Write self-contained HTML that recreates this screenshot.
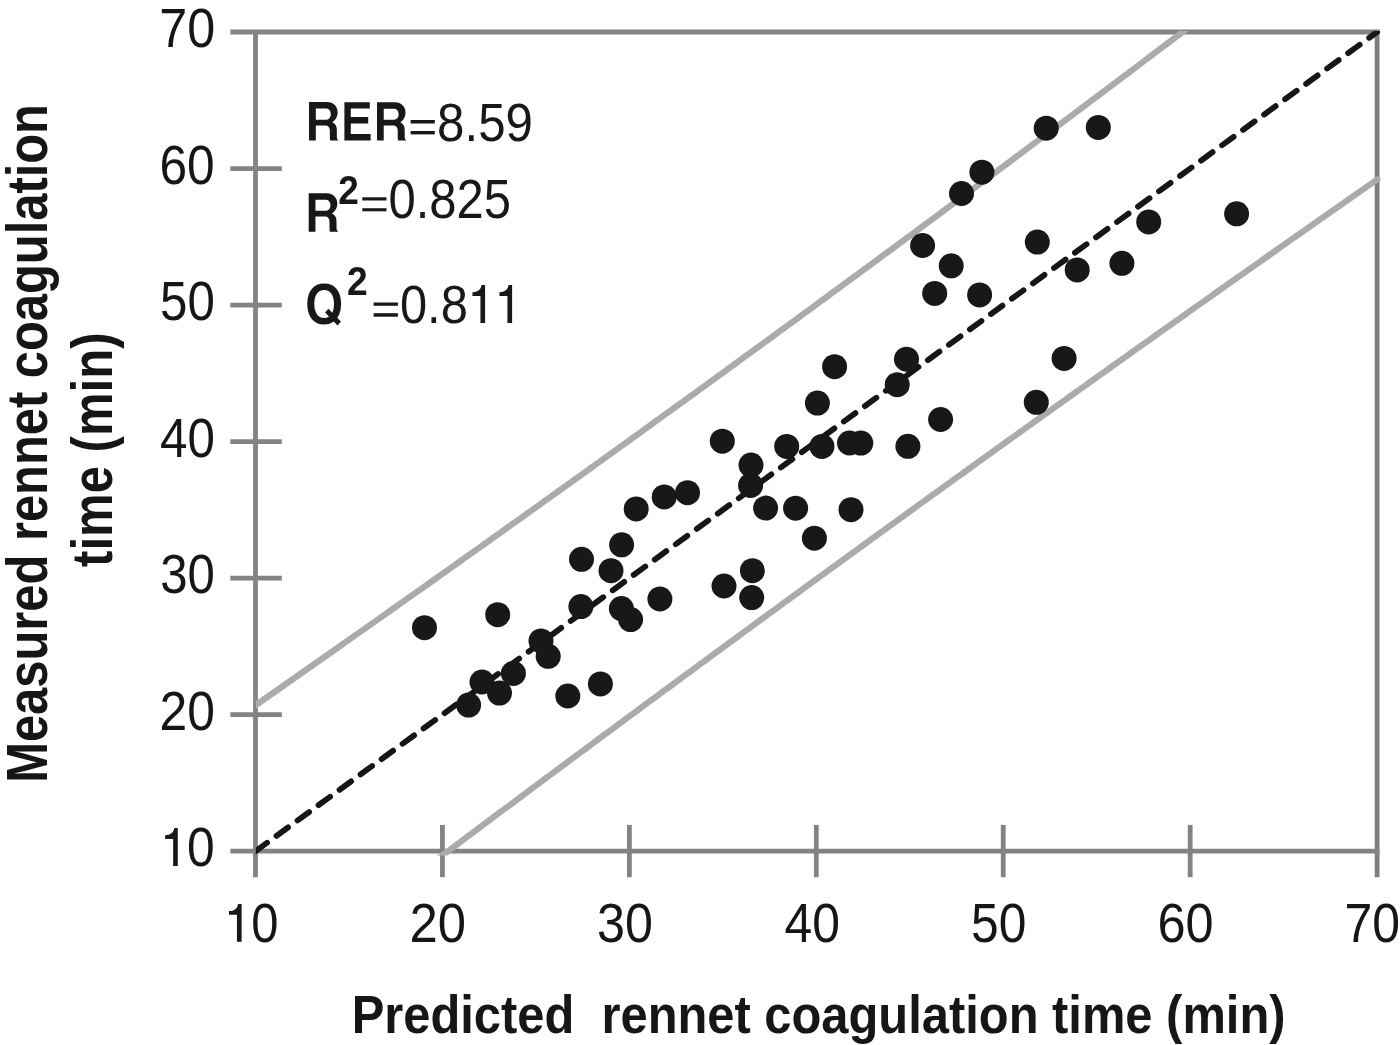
<!DOCTYPE html>
<html><head><meta charset="utf-8"><style>
html,body{margin:0;padding:0;background:#fff;}
svg{display:block;will-change:transform;}
text{font-family:"Liberation Sans",sans-serif;}
</style></head><body>
<svg width="1400" height="1045" viewBox="0 0 1400 1045">
<rect width="1400" height="1045" fill="#fff"/>
<g stroke="#838383" stroke-width="4.8" fill="none">
<line x1="255.5" y1="29.7" x2="255.5" y2="877.2"/>
<line x1="1377.1" y1="29.7" x2="1377.1" y2="877.2" stroke="#7e7e7e"/>
<line x1="230.3" y1="32.0" x2="1379.4" y2="32.0"/>
<line x1="230.3" y1="851.2" x2="1379.4" y2="851.2"/>
<line x1="230.3" y1="714.67" x2="281.8" y2="714.67"/>
<line x1="230.3" y1="578.13" x2="281.8" y2="578.13"/>
<line x1="230.3" y1="441.60" x2="281.8" y2="441.60"/>
<line x1="230.3" y1="305.07" x2="281.8" y2="305.07"/>
<line x1="230.3" y1="168.53" x2="281.8" y2="168.53"/>
<line x1="442.43" y1="824.9" x2="442.43" y2="877.2"/>
<line x1="629.37" y1="824.9" x2="629.37" y2="877.2"/>
<line x1="816.30" y1="824.9" x2="816.30" y2="877.2"/>
<line x1="1003.23" y1="824.9" x2="1003.23" y2="877.2"/>
<line x1="1190.17" y1="824.9" x2="1190.17" y2="877.2"/>
</g>
<defs><clipPath id="c"><rect x="255.8" y="31" width="1126" height="824.6"/></clipPath></defs>
<g clip-path="url(#c)">
<polyline fill="none" stroke="#ababab" stroke-width="6.2" points="230.00,723.02 235.00,719.54 240.00,716.06 245.00,712.57 250.00,709.09 255.00,705.60 260.00,702.11 265.00,698.62 270.00,695.13 275.00,691.63 280.00,688.14 285.00,684.64 290.00,681.14 295.00,677.64 300.00,674.14 305.00,670.64 310.00,667.14 315.00,663.64 320.00,660.13 325.00,656.62 330.00,653.11 335.00,649.60 340.00,646.09 345.00,642.58 350.00,639.06 355.00,635.55 360.00,632.03 365.00,628.51 370.00,624.99 375.00,621.47 380.00,617.95 385.00,614.42 390.00,610.90 395.00,607.37 400.00,603.84 405.00,600.31 410.00,596.78 415.00,593.24 420.00,589.71 425.00,586.17 430.00,582.64 435.00,579.10 440.00,575.56 445.00,572.01 450.00,568.47 455.00,564.92 460.00,561.38 465.00,557.83 470.00,554.28 475.00,550.73 480.00,547.17 485.00,543.62 490.00,540.06 495.00,536.51 500.00,532.95 505.00,529.39 510.00,525.82 515.00,522.26 520.00,518.69 525.00,515.13 530.00,511.56 535.00,507.99 540.00,504.42 545.00,500.84 550.00,497.27 555.00,493.69 560.00,490.11 565.00,486.54 570.00,482.95 575.00,479.37 580.00,475.79 585.00,472.20 590.00,468.61 595.00,465.03 600.00,461.43 605.00,457.84 610.00,454.25 615.00,450.65 620.00,447.06 625.00,443.46 630.00,439.86 635.00,436.26 640.00,432.65 645.00,429.05 650.00,425.44 655.00,421.83 660.00,418.22 665.00,414.61 670.00,411.00 675.00,407.38 680.00,403.77 685.00,400.15 690.00,396.53 695.00,392.91 700.00,389.28 705.00,385.66 710.00,382.03 715.00,378.41 720.00,374.78 725.00,371.15 730.00,367.51 735.00,363.88 740.00,360.24 745.00,356.61 750.00,352.97 755.00,349.33 760.00,345.68 765.00,342.04 770.00,338.39 775.00,334.75 780.00,331.10 785.00,327.45 790.00,323.79 795.00,320.14 800.00,316.48 805.00,312.83 810.00,309.17 815.00,305.51 820.00,301.85 825.00,298.18 830.00,294.52 835.00,290.85 840.00,287.18 845.00,283.51 850.00,279.84 855.00,276.17 860.00,272.49 865.00,268.81 870.00,265.13 875.00,261.45 880.00,257.77 885.00,254.09 890.00,250.40 895.00,246.72 900.00,243.03 905.00,239.34 910.00,235.65 915.00,231.96 920.00,228.26 925.00,224.56 930.00,220.87 935.00,217.17 940.00,213.47 945.00,209.76 950.00,206.06 955.00,202.35 960.00,198.65 965.00,194.94 970.00,191.23 975.00,187.51 980.00,183.80 985.00,180.08 990.00,176.37 995.00,172.65 1000.00,168.93 1005.00,165.21 1010.00,161.48 1015.00,157.76 1020.00,154.03 1025.00,150.30 1030.00,146.57 1035.00,142.84 1040.00,139.11 1045.00,135.37 1050.00,131.64 1055.00,127.90 1060.00,124.16 1065.00,120.42 1070.00,116.68 1075.00,112.93 1080.00,109.19 1085.00,105.44 1090.00,101.69 1095.00,97.94 1100.00,94.19 1105.00,90.44 1110.00,86.68 1115.00,82.93 1120.00,79.17 1125.00,75.41 1130.00,71.65 1135.00,67.89 1140.00,64.12 1145.00,60.36 1150.00,56.59 1155.00,52.82 1160.00,49.05 1165.00,45.28 1170.00,41.51 1175.00,37.74 1180.00,33.96 1185.00,30.18 1190.00,26.41 1195.00,22.63 1200.00,18.84 1205.00,15.06 1210.00,11.28 1215.00,7.49 1220.00,3.70 1225.00,-0.08 1230.00,-3.87 1235.00,-7.67 1240.00,-11.46 1245.00,-15.25 1250.00,-19.05 1255.00,-22.85 1260.00,-26.65 1265.00,-30.45 1270.00,-34.25 1275.00,-38.05 1280.00,-41.85 1285.00,-45.66 1290.00,-49.47 1295.00,-53.27 1300.00,-57.08 1305.00,-60.90 1310.00,-64.71 1315.00,-68.52 1320.00,-72.34 1325.00,-76.15 1330.00,-79.97 1335.00,-83.79 1340.00,-87.61 1345.00,-91.43 1350.00,-95.26 1355.00,-99.08 1360.00,-102.91 1365.00,-106.73 1370.00,-110.56 1375.00,-114.39 1380.00,-118.22 1385.00,-122.06 1390.00,-125.89 1395.00,-129.72 1400.00,-133.56 1405.00,-137.40 1410.00,-141.24 1415.00,-145.08 1420.00,-148.92"/>
<polyline fill="none" stroke="#ababab" stroke-width="6.2" stroke-linecap="round" points="230.00,1015.56 235.00,1011.77 240.00,1007.97 245.00,1004.18 250.00,1000.38 255.00,996.59 260.00,992.80 265.00,989.01 270.00,985.22 275.00,981.44 280.00,977.65 285.00,973.87 290.00,970.08 295.00,966.30 300.00,962.52 305.00,958.74 310.00,954.96 315.00,951.19 320.00,947.41 325.00,943.64 330.00,939.86 335.00,936.09 340.00,932.32 345.00,928.55 350.00,924.78 355.00,921.02 360.00,917.25 365.00,913.49 370.00,909.72 375.00,905.96 380.00,902.20 385.00,898.44 390.00,894.68 395.00,890.93 400.00,887.17 405.00,883.42 410.00,879.67 415.00,875.91 420.00,872.16 425.00,868.41 430.00,864.67 435.00,860.92 440.00,857.18 445.00,853.43 450.00,849.69 455.00,845.95 460.00,842.21 465.00,838.47 470.00,834.74 475.00,831.00 480.00,827.27 485.00,823.53 490.00,819.80 495.00,816.07 500.00,812.34 505.00,808.61 510.00,804.89 515.00,801.16 520.00,797.44 525.00,793.72 530.00,790.00 535.00,786.28 540.00,782.56 545.00,778.84 550.00,775.13 555.00,771.41 560.00,767.70 565.00,763.99 570.00,760.28 575.00,756.57 580.00,752.87 585.00,749.16 590.00,745.46 595.00,741.75 600.00,738.05 605.00,734.35 610.00,730.65 615.00,726.96 620.00,723.26 625.00,719.57 630.00,715.87 635.00,712.18 640.00,708.49 645.00,704.80 650.00,701.11 655.00,697.43 660.00,693.74 665.00,690.06 670.00,686.38 675.00,682.70 680.00,679.02 685.00,675.34 690.00,671.66 695.00,667.99 700.00,664.32 705.00,660.64 710.00,656.97 715.00,653.30 720.00,649.64 725.00,645.97 730.00,642.30 735.00,638.64 740.00,634.98 745.00,631.32 750.00,627.66 755.00,624.00 760.00,620.34 765.00,616.69 770.00,613.03 775.00,609.38 780.00,605.73 785.00,602.08 790.00,598.43 795.00,594.79 800.00,591.14 805.00,587.50 810.00,583.86 815.00,580.21 820.00,576.57 825.00,572.94 830.00,569.30 835.00,565.66 840.00,562.03 845.00,558.40 850.00,554.77 855.00,551.14 860.00,547.51 865.00,543.88 870.00,540.26 875.00,536.63 880.00,533.01 885.00,529.39 890.00,525.77 895.00,522.15 900.00,518.53 905.00,514.92 910.00,511.30 915.00,507.69 920.00,504.08 925.00,500.47 930.00,496.86 935.00,493.25 940.00,489.65 945.00,486.04 950.00,482.44 955.00,478.84 960.00,475.24 965.00,471.64 970.00,468.04 975.00,464.44 980.00,460.85 985.00,457.25 990.00,453.66 995.00,450.07 1000.00,446.48 1005.00,442.89 1010.00,439.31 1015.00,435.72 1020.00,432.14 1025.00,428.56 1030.00,424.97 1035.00,421.39 1040.00,417.82 1045.00,414.24 1050.00,410.66 1055.00,407.09 1060.00,403.52 1065.00,399.94 1070.00,396.37 1075.00,392.80 1080.00,389.24 1085.00,385.67 1090.00,382.11 1095.00,378.54 1100.00,374.98 1105.00,371.42 1110.00,367.86 1115.00,364.30 1120.00,360.74 1125.00,357.19 1130.00,353.63 1135.00,350.08 1140.00,346.53 1145.00,342.98 1150.00,339.43 1155.00,335.88 1160.00,332.33 1165.00,328.79 1170.00,325.24 1175.00,321.70 1180.00,318.16 1185.00,314.62 1190.00,311.08 1195.00,307.54 1200.00,304.01 1205.00,300.47 1210.00,296.94 1215.00,293.40 1220.00,289.87 1225.00,286.34 1230.00,282.81 1235.00,279.29 1240.00,275.76 1245.00,272.23 1250.00,268.71 1255.00,265.19 1260.00,261.67 1265.00,258.15 1270.00,254.63 1275.00,251.11 1280.00,247.59 1285.00,244.08 1290.00,240.56 1295.00,237.05 1300.00,233.54 1305.00,230.03 1310.00,226.52 1315.00,223.01 1320.00,219.50 1325.00,216.00 1330.00,212.49 1335.00,208.99 1340.00,205.49 1345.00,201.99 1350.00,198.49 1355.00,194.99 1360.00,191.49 1365.00,187.99 1370.00,184.50 1375.00,181.01 1377.30,179.40"/>
<line x1="255.5" y1="851.2" x2="1377.1" y2="32.0" stroke="#161616" stroke-width="5.8" stroke-dasharray="14.3 11.72" stroke-linecap="round"/>
</g>
<g fill="#181818">
<circle cx="424.5" cy="627.7" r="12.5"/>
<circle cx="497.7" cy="614.7" r="12.5"/>
<circle cx="468.6" cy="705.1" r="12.5"/>
<circle cx="482.0" cy="682.0" r="12.5"/>
<circle cx="499.5" cy="693.1" r="12.5"/>
<circle cx="513.4" cy="673.4" r="12.5"/>
<circle cx="541.0" cy="640.9" r="12.5"/>
<circle cx="548.2" cy="656.3" r="12.5"/>
<circle cx="580.9" cy="606.6" r="12.5"/>
<circle cx="567.8" cy="696.0" r="12.5"/>
<circle cx="600.4" cy="683.9" r="12.5"/>
<circle cx="621.4" cy="608.6" r="12.5"/>
<circle cx="630.6" cy="619.6" r="12.5"/>
<circle cx="636.2" cy="508.9" r="12.5"/>
<circle cx="664.2" cy="496.9" r="12.5"/>
<circle cx="687.5" cy="492.7" r="12.5"/>
<circle cx="621.6" cy="544.8" r="12.5"/>
<circle cx="581.5" cy="559.3" r="12.5"/>
<circle cx="611.0" cy="570.7" r="12.5"/>
<circle cx="659.9" cy="599.0" r="12.5"/>
<circle cx="724.0" cy="586.0" r="12.5"/>
<circle cx="752.4" cy="570.7" r="12.5"/>
<circle cx="751.7" cy="597.6" r="12.5"/>
<circle cx="765.6" cy="508.1" r="12.5"/>
<circle cx="795.6" cy="508.2" r="12.5"/>
<circle cx="750.6" cy="485.4" r="12.5"/>
<circle cx="751.0" cy="465.1" r="12.5"/>
<circle cx="722.3" cy="441.2" r="12.5"/>
<circle cx="786.7" cy="446.4" r="12.5"/>
<circle cx="821.9" cy="446.4" r="12.5"/>
<circle cx="849.5" cy="443.0" r="12.5"/>
<circle cx="860.8" cy="443.1" r="12.5"/>
<circle cx="817.4" cy="403.1" r="12.5"/>
<circle cx="834.6" cy="366.7" r="12.5"/>
<circle cx="897.2" cy="384.7" r="12.5"/>
<circle cx="906.5" cy="359.2" r="12.5"/>
<circle cx="907.9" cy="446.3" r="12.5"/>
<circle cx="940.6" cy="419.5" r="12.5"/>
<circle cx="851.0" cy="509.7" r="12.5"/>
<circle cx="814.4" cy="538.2" r="12.5"/>
<circle cx="1064.1" cy="358.4" r="12.5"/>
<circle cx="1036.3" cy="402.3" r="12.5"/>
<circle cx="981.9" cy="172.2" r="12.5"/>
<circle cx="961.5" cy="193.5" r="12.5"/>
<circle cx="922.6" cy="245.5" r="12.5"/>
<circle cx="951.2" cy="265.8" r="12.5"/>
<circle cx="934.7" cy="293.4" r="12.5"/>
<circle cx="979.6" cy="294.9" r="12.5"/>
<circle cx="1037.3" cy="242.1" r="12.5"/>
<circle cx="1077.2" cy="269.9" r="12.5"/>
<circle cx="1046.2" cy="128.2" r="12.5"/>
<circle cx="1098.3" cy="127.4" r="12.5"/>
<circle cx="1148.7" cy="221.9" r="12.5"/>
<circle cx="1236.6" cy="213.8" r="12.5"/>
<circle cx="1121.9" cy="263.3" r="12.5"/>
</g>
<g font-family="Liberation Sans" fill="#181818">
<text transform="translate(159.24,47.10) scale(0.9142,1)" font-size="55.01" font-weight="normal" fill="#161616" >70</text>
<text transform="translate(159.46,183.63) scale(0.9035,1)" font-size="55.01" font-weight="normal" fill="#161616" >60</text>
<text transform="translate(160.03,320.17) scale(0.8957,1)" font-size="55.01" font-weight="normal" fill="#161616" >50</text>
<text transform="translate(160.07,456.70) scale(0.8967,1)" font-size="55.01" font-weight="normal" fill="#161616" >40</text>
<text transform="translate(160.13,593.23) scale(0.8939,1)" font-size="55.01" font-weight="normal" fill="#161616" >30</text>
<text transform="translate(159.51,729.77) scale(0.9062,1)" font-size="55.01" font-weight="normal" fill="#161616" >20</text>
<path transform="translate(177.80,865.90) scale(1.0027)" d="M0,0V-37.7H-3.5C-4.1,-33.4 -7.3,-30.6 -12.6,-30.5V-26.85H-4.65V0Z"/>
<text transform="translate(187.06,866.30) scale(0.9051,1)" font-size="55.01" font-weight="normal" fill="#161616" >0</text>
<text transform="translate(409.46,942.10) scale(0.9192,1)" font-size="55.30" font-weight="normal" fill="#161616" >20</text>
<text transform="translate(597.09,942.10) scale(0.9085,1)" font-size="55.30" font-weight="normal" fill="#161616" >30</text>
<text transform="translate(784.45,942.10) scale(0.9024,1)" font-size="55.30" font-weight="normal" fill="#161616" >40</text>
<text transform="translate(971.01,942.10) scale(0.8998,1)" font-size="55.30" font-weight="normal" fill="#161616" >50</text>
<text transform="translate(1157.43,942.10) scale(0.9130,1)" font-size="55.30" font-weight="normal" fill="#161616" >60</text>
<text transform="translate(1344.55,942.10) scale(0.9041,1)" font-size="55.30" font-weight="normal" fill="#161616" >70</text>
<path transform="translate(241.60,941.70) scale(1.0027)" d="M0,0V-37.7H-3.5C-4.1,-33.4 -7.3,-30.6 -12.6,-30.5V-26.85H-4.65V0Z"/>
<text transform="translate(251.19,942.20) scale(0.8852,1)" font-size="55.30" font-weight="normal" fill="#161616" >0</text>
<path fill-rule="evenodd" transform="translate(309.05,140.55) scale(1.0000)" d="M0,0V-38.48H18C24.5,-38.48 28.6,-34.2 28.6,-28.2C28.6,-23.5 26.2,-20 23.2,-18.3C26.4,-16.8 27.8,-14.6 27.8,-10.5V-3.6C27.8,-2 28.4,-0.9 29.3,-0.5V0H21.2C20.9,-1 20.8,-2.5 20.8,-4.5V-9.5C20.8,-13.2 19.4,-15.1 15.6,-15.1H6.75V0ZM6.75,-31.96V-20.9H16.3C19.8,-20.9 21.7,-22.9 21.7,-26.4C21.7,-30 19.8,-31.96 16.3,-31.96Z"/>
<path d="M344.4,102.3H369.8V108.6H350.8V117.1H368.2V123.5H350.8V134.1H370.6V140.55H344.4Z"/>
<path fill-rule="evenodd" transform="translate(377.00,140.55) scale(0.9966)" d="M0,0V-38.48H18C24.5,-38.48 28.6,-34.2 28.6,-28.2C28.6,-23.5 26.2,-20 23.2,-18.3C26.4,-16.8 27.8,-14.6 27.8,-10.5V-3.6C27.8,-2 28.4,-0.9 29.3,-0.5V0H21.2C20.9,-1 20.8,-2.5 20.8,-4.5V-9.5C20.8,-13.2 19.4,-15.1 15.6,-15.1H6.75V0ZM6.75,-31.96V-20.9H16.3C19.8,-20.9 21.7,-22.9 21.7,-26.4C21.7,-30 19.8,-31.96 16.3,-31.96Z"/>
<rect x="410.60" y="120.00" width="24.20" height="3.50"/><rect x="410.60" y="131.00" width="24.20" height="3.40"/>
<text transform="translate(437.08,140.86) scale(0.9056,1)" font-size="54.38" font-weight="normal" >8.59</text>
<path fill-rule="evenodd" transform="translate(308.70,231.70) scale(1.0005)" d="M0,0V-38.48H18C24.5,-38.48 28.6,-34.2 28.6,-28.2C28.6,-23.5 26.2,-20 23.2,-18.3C26.4,-16.8 27.8,-14.6 27.8,-10.5V-3.6C27.8,-2 28.4,-0.9 29.3,-0.5V0H21.2C20.9,-1 20.8,-2.5 20.8,-4.5V-9.5C20.8,-13.2 19.4,-15.1 15.6,-15.1H6.75V0ZM6.75,-31.96V-20.9H16.3C19.8,-20.9 21.7,-22.9 21.7,-26.4C21.7,-30 19.8,-31.96 16.3,-31.96Z"/>
<text transform="translate(338.30,203.50) scale(0.9063,1)" font-size="40.83" font-weight="bold" >2</text>
<rect x="362.30" y="197.30" width="24.20" height="3.20"/><rect x="362.30" y="208.20" width="24.20" height="3.10"/>
<text transform="translate(388.49,218.15) scale(0.8939,1)" font-size="54.80" font-weight="normal" >0.825</text>
<text transform="translate(305.30,323.53) scale(0.8485,1)" font-size="57.49" font-weight="bold" >O</text>
<polygon points="328.4,308.7 325.1,312.6 337.6,325.5 340.9,321.6"/>
<text transform="translate(347.10,295.10) scale(0.9019,1)" font-size="41.26" font-weight="bold" >2</text>
<rect x="373.60" y="302.50" width="24.30" height="3.30"/><rect x="373.60" y="313.20" width="24.30" height="3.50"/>
<text transform="translate(399.89,323.46) scale(0.9007,1)" font-size="54.24" font-weight="normal" >0.8</text>
<path transform="translate(485.10,322.90) scale(1.0027)" d="M0,0V-37.7H-3.5C-4.1,-33.4 -7.3,-30.6 -12.6,-30.5V-26.85H-4.65V0Z"/>
<path transform="translate(512.10,322.90) scale(1.0027)" d="M0,0V-37.7H-3.5C-4.1,-33.4 -7.3,-30.6 -12.6,-30.5V-26.85H-4.65V0Z"/>
<text transform="translate(351.63,1032.60) scale(0.9132,1)" font-size="53.52" font-weight="bold" fill="#161616" xml:space="preserve">Predicted  rennet coagulation time (min)</text>
<text transform="translate(46.70,782.77) rotate(-90) scale(0.8622,1)" font-size="56.69" font-weight="bold" fill="#161616">Measured rennet coagulation</text>
<text transform="translate(111.80,566.89) rotate(-90) scale(0.8656,1)" font-size="56.69" font-weight="bold" fill="#161616">time (min)</text>
</g>
</svg>
</body></html>
